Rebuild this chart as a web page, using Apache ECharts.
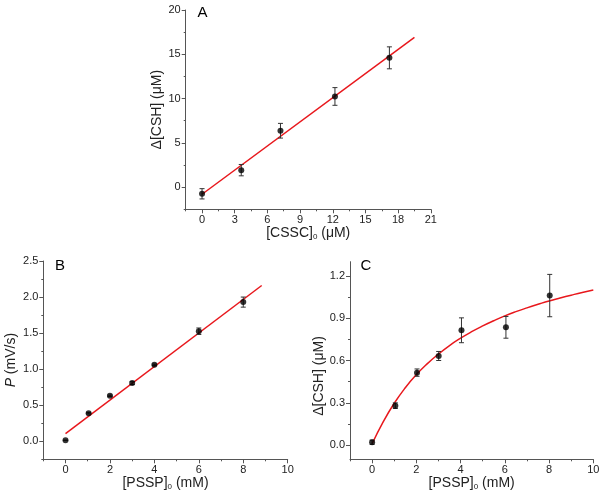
<!DOCTYPE html>
<html>
<head>
<meta charset="utf-8">
<script src="https://cdn.jsdelivr.net/npm/echarts@6/dist/echarts.min.js"></script>
<style>html,body{margin:0;padding:0;background:#fff}#c{width:605px;height:499px}</style>
</head>
<body>
<div id="c"></div>
<script>
// Panel A
const A_x = [0, 3.6, 7.2, 12.2, 17.2];
const A_y = [-0.75, 1.92, 6.37, 10.24, 14.6];
const A_err = [0.58, 0.64, 0.83, 1.0, 1.24];
const A_fitX = [0, 19.5];
const A_fitY = [-0.8, 16.9];
const A_xTicks = [0, 3, 6, 9, 12, 15, 18, 21];
const A_xMinor = [-1.5, 1.5, 4.5, 7.5, 10.5, 13.5, 16.5, 19.5];
const A_yTicks = [0, 5, 10, 15, 20];
const A_yMinor = [-2.5, 2.5, 7.5, 12.5, 17.5];
// Panel B
const B_x = [0, 1.04, 2, 3, 4, 6, 8];
const B_y = [0.014, 0.39, 0.63, 0.807, 1.06, 1.526, 1.93];
const B_err = [0, 0.01, 0.01, 0.02, 0.01, 0.045, 0.07];
const B_fitX = [0, 8.83];
const B_fitY = [0.107, 2.16];
const B_xTicks = [0, 2, 4, 6, 8, 10];
const B_xMinor = [-1, 1, 3, 5, 7, 9];
const B_yTicks = [0, 0.5, 1, 1.5, 2, 2.5];
const B_yMinor = [-0.25, 0.25, 0.75, 1.25, 1.75, 2.25];
// Panel C
const C_x = [0, 1.05, 2.03, 3.01, 4.04, 6.05, 8.03];
const C_y = [0.021, 0.28, 0.514, 0.632, 0.814, 0.835, 1.06];
const C_err = [0.015, 0.02, 0.026, 0.032, 0.088, 0.077, 0.15];
const C_fitX = [0, 0.5, 1, 1.5, 2, 2.5, 3, 3.5, 4, 4.5, 5, 5.5, 6, 6.5, 7, 7.5, 8, 8.5, 9, 9.5, 10];
const C_fitY = [0.010, 0.165, 0.297, 0.407, 0.500, 0.578, 0.646, 0.706, 0.758, 0.804, 0.845, 0.882, 0.916, 0.946, 0.973, 0.998, 1.022, 1.043, 1.063, 1.082, 1.099];
const C_xTicks = [0, 2, 4, 6, 8, 10];
const C_xMinor = [-1, 1, 3, 5, 7, 9];
const C_yTicks = [0, 0.3, 0.6, 0.9, 1.2];
const C_yMinor = [0.15, 0.45, 0.75, 1.05];

const FONT = 'Liberation Sans, Arial, sans-serif';
const AXIS_COLOR = '#555';
const TEXT_COLOR = '#222';
const RED = '#e8171c';

function mainAxis(grid, pos, min, max, ticks, fmt, name, nameGap) {
  return {
    type: 'value', gridIndex: grid, position: pos, min: min, max: max,
    axisLine: {show: true, onZero: false, lineStyle: {color: AXIS_COLOR, width: 1}},
    axisTick: {show: true, inside: false, length: 4, customValues: ticks, lineStyle: {color: AXIS_COLOR}},
    axisLabel: {show: true, customValues: ticks, formatter: fmt, color: TEXT_COLOR, fontFamily: FONT, fontSize: 11, margin: 5},
    splitLine: {show: false},
    name: name, nameLocation: 'middle', nameGap: nameGap,
    nameTextStyle: {color: TEXT_COLOR, fontFamily: FONT, fontSize: 14,
      rich: {sub: {fontSize: 8, fontFamily: FONT, color: TEXT_COLOR, padding: [8, 0, 0, 0]},
             it: {fontSize: 14, fontFamily: FONT, color: TEXT_COLOR, fontStyle: 'italic'}}}
  };
}
function minorAxis(grid, pos, min, max, ticks) {
  return {
    type: 'value', gridIndex: grid, position: pos, offset: 0, min: min, max: max,
    axisLine: {show: false, onZero: false},
    axisTick: {show: true, inside: false, length: 2, customValues: ticks, lineStyle: {color: AXIS_COLOR}},
    axisLabel: {show: false},
    splitLine: {show: false}
  };
}
const fmtInt = v => String(Math.round(v));
const fmt1 = v => v.toFixed(1);

function zip(xs, ys) { return xs.map((x, i) => [x, ys[i]]); }
function errData(xs, ys, es) { return xs.map((x, i) => [x, ys[i] - es[i], ys[i] + es[i]]); }

function errorSeries(xi, yi, data) {
  return {
    type: 'custom', xAxisIndex: xi, yAxisIndex: yi, data: data, z: 3,
    encode: {x: 0, y: [1, 2]},
    renderItem: function (params, api) {
      const lo = api.coord([api.value(0), api.value(1)]);
      const hi = api.coord([api.value(0), api.value(2)]);
      const w = 2.5;
      const st = {stroke: '#333', lineWidth: 1};
      return {type: 'group', children: [
        {type: 'line', shape: {x1: lo[0], y1: lo[1], x2: hi[0], y2: hi[1]}, style: st},
        {type: 'line', shape: {x1: lo[0] - w, y1: lo[1], x2: lo[0] + w, y2: lo[1]}, style: st},
        {type: 'line', shape: {x1: hi[0] - w, y1: hi[1], x2: hi[0] + w, y2: hi[1]}, style: st}
      ]};
    }
  };
}
function fitSeries(xi, yi, data, smooth) {
  return {type: 'line', xAxisIndex: xi, yAxisIndex: yi, data: data, smooth: smooth ? 0.5 : false,
    showSymbol: false, symbol: 'none', lineStyle: {color: RED, width: 1.5}, z: 2, silent: true};
}
function pointSeries(xi, yi, data) {
  return {type: 'scatter', xAxisIndex: xi, yAxisIndex: yi, data: data, symbol: 'circle', symbolSize: 6,
    itemStyle: {color: '#000'}, z: 4, silent: true};
}

const chart = echarts.init(document.getElementById('c'), null, {renderer: 'canvas'});
chart.setOption({
  animation: false,
  backgroundColor: '#fff',
  grid: [
    {left: 185.7, top: 10, width: 245.1, height: 199.3, outerBoundsMode: 'none'},
    {left: 43.3, top: 261, width: 244.4, height: 198.3, outerBoundsMode: 'none'},
    {left: 350, top: 261.7, width: 243.3, height: 197.6, outerBoundsMode: 'none'}
  ],
  xAxis: [
    mainAxis(0, 'bottom', -1.5, 21, A_xTicks, fmtInt, '[CSSC]{sub|0} (μM)', 15),
    minorAxis(0, 'bottom', -1.5, 21, A_xMinor),
    mainAxis(1, 'bottom', -1, 10, B_xTicks, fmtInt, '[PSSP]{sub|0} (mM)', 7),
    minorAxis(1, 'bottom', -1, 10, B_xMinor),
    mainAxis(2, 'bottom', -1, 10, C_xTicks, fmtInt, '[PSSP]{sub|0} (mM)', 9),
    minorAxis(2, 'bottom', -1, 10, C_xMinor)
  ],
  yAxis: [
    mainAxis(0, 'left', -2.5, 20, A_yTicks, fmtInt, 'Δ[CSH] (μM)', 16),
    minorAxis(0, 'left', -2.5, 20, A_yMinor),
    mainAxis(1, 'left', -0.25, 2.5, B_yTicks, fmt1, '{it|P} (mV/s)', 25),
    minorAxis(1, 'left', -0.25, 2.5, B_yMinor),
    mainAxis(2, 'left', -0.1, 1.3, C_yTicks, fmt1, '', 10),
    minorAxis(2, 'left', -0.1, 1.3, C_yMinor)
  ],
  graphic: [
    {type: 'text', x: 202.5, y: 12.5, style: {text: 'A', font: '15px ' + FONT, fill: '#000', align: 'center', verticalAlign: 'middle'}},
    {type: 'text', x: 60, y: 266, style: {text: 'B', font: '15px ' + FONT, fill: '#000', align: 'center', verticalAlign: 'middle'}},
    {type: 'text', x: 366, y: 265.5, style: {text: 'C', font: '15px ' + FONT, fill: '#000', align: 'center', verticalAlign: 'middle'}},
    {type: 'text', x: 319, y: 376, rotation: Math.PI / 2, style: {text: 'Δ[CSH] (μM)', font: '14px ' + FONT, fill: TEXT_COLOR, align: 'center', verticalAlign: 'middle'}}
  ],
  series: [
    fitSeries(0, 0, zip(A_fitX, A_fitY), false),
    errorSeries(0, 0, errData(A_x, A_y, A_err)),
    pointSeries(0, 0, zip(A_x, A_y)),
    fitSeries(2, 2, zip(B_fitX, B_fitY), false),
    errorSeries(2, 2, errData(B_x, B_y, B_err)),
    pointSeries(2, 2, zip(B_x, B_y)),
    fitSeries(4, 4, zip(C_fitX, C_fitY), true),
    errorSeries(4, 4, errData(C_x, C_y, C_err)),
    pointSeries(4, 4, zip(C_x, C_y))
  ]
});
</script>
</body>
</html>
